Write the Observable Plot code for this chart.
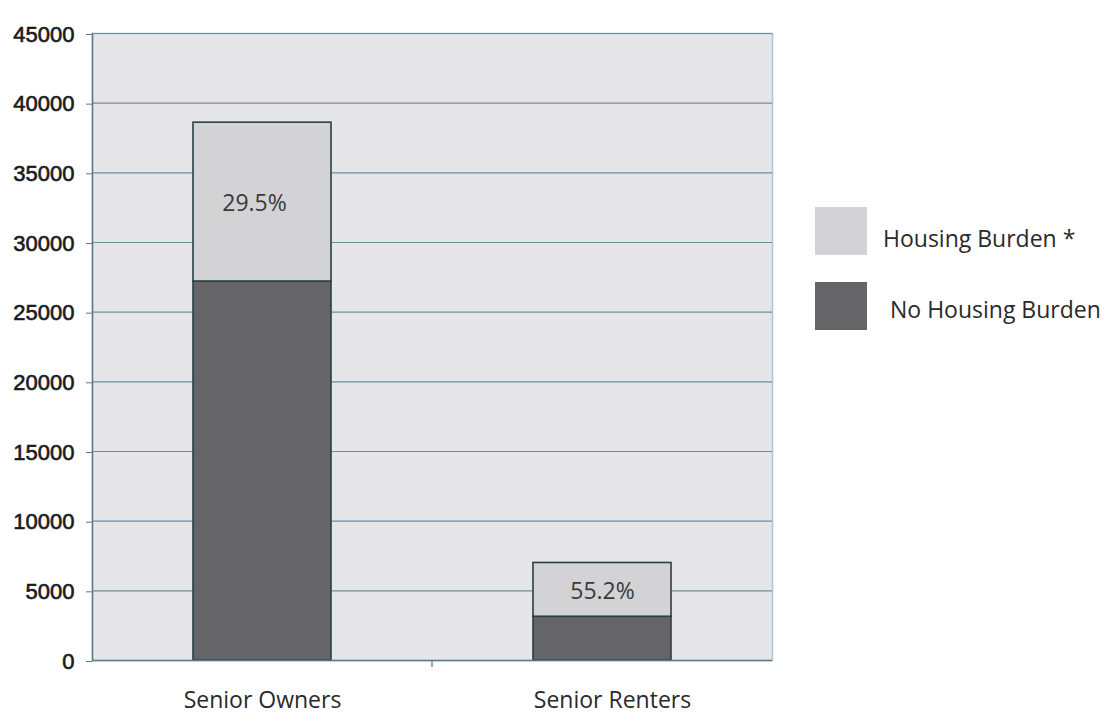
<!DOCTYPE html>
<html>
<head>
<meta charset="utf-8">
<script src="https://cdn.jsdelivr.net/npm/d3@7"></script>
<script src="https://cdn.jsdelivr.net/npm/@observablehq/plot@0.6"></script>
<style>
  body { margin: 0; background: #ffffff; }
  #wrap { position: relative; width: 1120px; height: 715px; overflow: hidden; }
  .key { position: absolute; display: flex; align-items: center; font-family: "Open Sans", sans-serif; font-size: 23px; color: #2a2a2a; }
  .swatch { width: 52px; height: 48px; margin-right: 16px; }
</style>
</head>
<body>
<div id="wrap"></div>
<script>
// Senior households by tenure, split by housing cost burden
const groups = ["Senior Owners", "Senior Renters"];
const noBurden = [27200, 3140];
const burden = [11400, 3860];
const shareLabels = ["29.5%", "55.2%"];
const series = ["No Housing Burden", "Housing Burden *"];
const seriesColors = ["#656567", "#d3d3d5"];
const yTicks = [0, 5000, 10000, 15000, 20000, 25000, 30000, 35000, 40000, 45000];

const rows = groups.flatMap((g, i) => [
  {group: g, series: series[0], value: noBurden[i], label: null},
  {group: g, series: series[1], value: burden[i], label: shareLabels[i]}
]);

// small tick on the category axis between the two bands
const separators = (index, scales, values, dims) => {
  const x = scales.scales.x;
  const pos = groups.slice(1).map((g, i) => (scales.x(g) + scales.x(groups[i]) + x.bandwidth) / 2);
  const g = d3.create("svg:g");
  const y0 = dims.height - dims.marginBottom;
  for (const p of pos) {
    g.append("line").attr("x1", p).attr("x2", p).attr("y1", y0).attr("y2", y0 + 7)
      .attr("stroke", "#5d7b89").attr("stroke-width", 1.3);
  }
  return g.node();
};

const labelFont = {fontSize: 23, fontFamily: "Open Sans, sans-serif", fill: "#3a3a3a", dy: 2};
const shareText = (gi, dx) => Plot.text(rows, Plot.stackY({
  x: "group", y: "value",
  text: d => (d.group === groups[gi] ? d.label : null),
  dx, ...labelFont
}));

const axisFont = {fontSize: 23, fontFamily: "Open Sans, sans-serif", fill: "#2a2a2a", tickSize: 0, tickPadding: 31, label: null};

const chart = Plot.plot({
  width: 1120,
  height: 715,
  marginLeft: 92,
  marginRight: 348,
  marginTop: 33,
  marginBottom: 55,
  style: {background: "transparent"},
  x: {domain: groups, paddingInner: 0.594, paddingOuter: 0.297, label: null},
  y: {domain: [0, 45000], label: null},
  color: {domain: series, range: seriesColors},
  marks: [
    Plot.frame({fill: "#e6e6e8", stroke: "#a9c6d6", strokeWidth: 1.5}),
    Plot.gridY(yTicks, {stroke: "#6f8e9c", strokeOpacity: 1, strokeWidth: 1.2}),
    Plot.barY(rows, {x: "group", y: "value", fill: "series", stroke: "#2b3f47", strokeWidth: 1.6, inset: 0}),
    shareText(0, -8),
    shareText(1, 0),
    Plot.ruleY([0], {stroke: "#5d7b89", strokeWidth: 1.5}),
    Plot.frame({anchor: "left", stroke: "#5d7b89", strokeWidth: 1.5}),
    Plot.axisY({ticks: yTicks, tickSize: 6, tickPadding: 12, tickFormat: d => String(d), fontSize: 22, fontFamily: "Liberation Sans, Arial, sans-serif", fill: "#1a1a1a", textStroke: "#1a1a1a", textStrokeWidth: 0.6, stroke: "#5d7b89", dy: 1, label: null}),
    Plot.axisX([groups[0]], {...axisFont}),
    Plot.axisX([groups[1]], {...axisFont, dx: 10}),
    separators
  ]
});

const wrap = document.getElementById("wrap");
wrap.appendChild(chart);

// legend: burdened first, then not burdened
const keyTops = [207, 282];
const keyTextLeft = [0, 7];
const keyTextDrop = [7, 3];
[1, 0].forEach((si, k) => {
  const item = document.createElement("div");
  item.className = "key";
  item.style.left = "815px";
  item.style.top = keyTops[k] + "px";
  const sw = document.createElement("div");
  sw.className = "swatch";
  sw.style.background = seriesColors[si];
  sw.style.marginRight = (16 + keyTextLeft[k]) + "px";
  const t = document.createElement("span");
  t.textContent = series[si];
  t.style.position = "relative";
  t.style.top = keyTextDrop[k] + "px";
  item.appendChild(sw);
  item.appendChild(t);
  wrap.appendChild(item);
});
</script>
</body>
</html>
